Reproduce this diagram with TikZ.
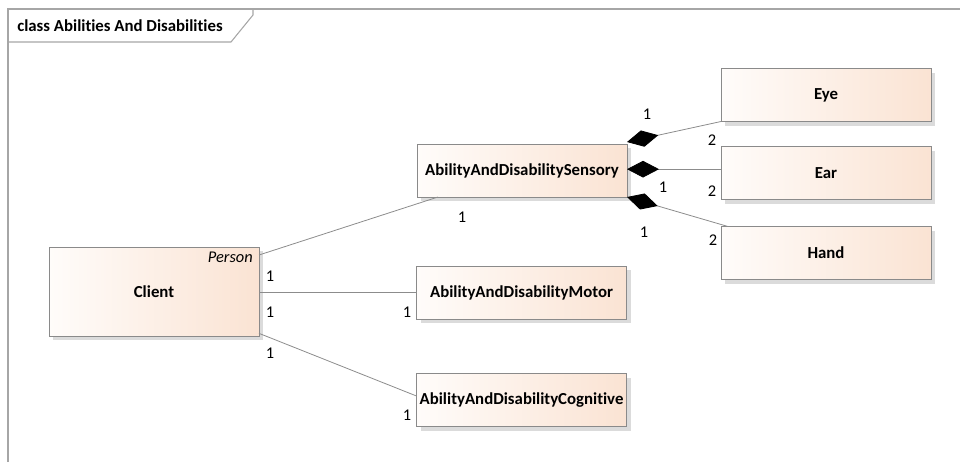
\documentclass[tikz,border=0pt]{standalone}
\usepackage{fontspec}
\setmainfont{Carlito}[Ligatures=NoCommon]
\usetikzlibrary{arrows.meta, shadows}
\definecolor{peach}{HTML}{FAE3D3}
\definecolor{paleleft}{HTML}{FFFCFA}
\definecolor{boxline}{HTML}{8A8A8A}
\definecolor{linkgray}{HTML}{8C8C8C}
\definecolor{framegray}{HTML}{A6A6A6}
\tikzstyle{classbox} = [rectangle, minimum width=157.5pt, minimum height=39.75pt, inner sep=0pt, outer sep=0pt, draw=boxline, left color=paleleft, right color=peach, font=\fontsize{12.6}{14}\selectfont\bfseries, drop shadow={shadow xshift=3pt, shadow yshift=-3pt, fill=black!14, opacity=1}]
\tikzstyle{link} = [draw=linkgray, line width=0.6pt]
\tikzstyle{compose} = [link, {Diamond[length=24pt, width=12.5pt, color=black, fill=black]}-]
\tikzstyle{mult} = [font=\fontsize{12.3}{14}\selectfont, inner sep=0pt]

\begin{document}
\begin{tikzpicture}[x=0.75pt, y=-0.75pt]
\useasboundingbox (0,0) rectangle (960,462);

% frame and its tab
\draw [framegray, line width=0.8pt] (8,462) -- (8,9) -- (960,9);
\draw [framegray, line width=0.8pt] (8,42) -- (231,42) -- (253,15) -- (253,9);
\node (title) [anchor=west, font=\fontsize{12.6}{14}\selectfont\bfseries, inner sep=0pt] at (17,26) {class Abilities And Disabilities};

% classes
\node (client) [classbox, minimum height=66.75pt] at (154,291.5) {Client};
\node (person) [anchor=north east, inner sep=0pt, font=\fontsize{12.3}{14}\selectfont\itshape] at ([xshift=-4.5pt, yshift=-3.5pt]client.north east) {Person};
\node (sensory) [classbox] at (522,170.5) {AbilityAndDisabilitySensory};
\node (motor) [classbox] at (521.5,292.5) {AbilityAndDisabilityMotor};
\node (cognitive) [classbox] at (521.5,400) {AbilityAndDisabilityCognitive};
\node (eye) [classbox] at (826,95) {Eye};
\node (ear) [classbox] at (826,173) {Ear};
\node (hand) [classbox] at (826,253) {Hand};

% associations
\draw [link] ([yshift=-6pt]client.north east) -- ([xshift=15.75pt]sensory.south west);
\draw [link] ([yshift=-0.75pt]client.east) -- (motor.west);
\draw [link] ([yshift=2pt]client.south east) -- ([yshift=3pt]cognitive.west);

% compositions
\draw [compose] ([yshift=1.5pt]sensory.north east) -- (eye.south west);
\draw [compose] ([yshift=1pt]sensory.east) -- ([yshift=1pt]sensory.east -| ear.west);
\draw [compose] (sensory.south east) -- ([xshift=5.25pt]hand.north west);

% multiplicities
\node (m1) [mult] at (647,114) {1};
\node (m2) [mult] at (712,140) {2};
\node (m3) [mult] at (663,187) {1};
\node (m4) [mult] at (712,191) {2};
\node (m5) [mult] at (644,232) {1};
\node (m6) [mult] at (713,240) {2};
\node (m7) [mult] at (462,217) {1};
\node (m8) [mult] at (270,276) {1};
\node (m9) [mult] at (270,312) {1};
\node (m10) [mult] at (270,353) {1};
\node (m11) [mult] at (407,312) {1};
\node (m12) [mult] at (407,415) {1};

\end{tikzpicture}
\end{document}
